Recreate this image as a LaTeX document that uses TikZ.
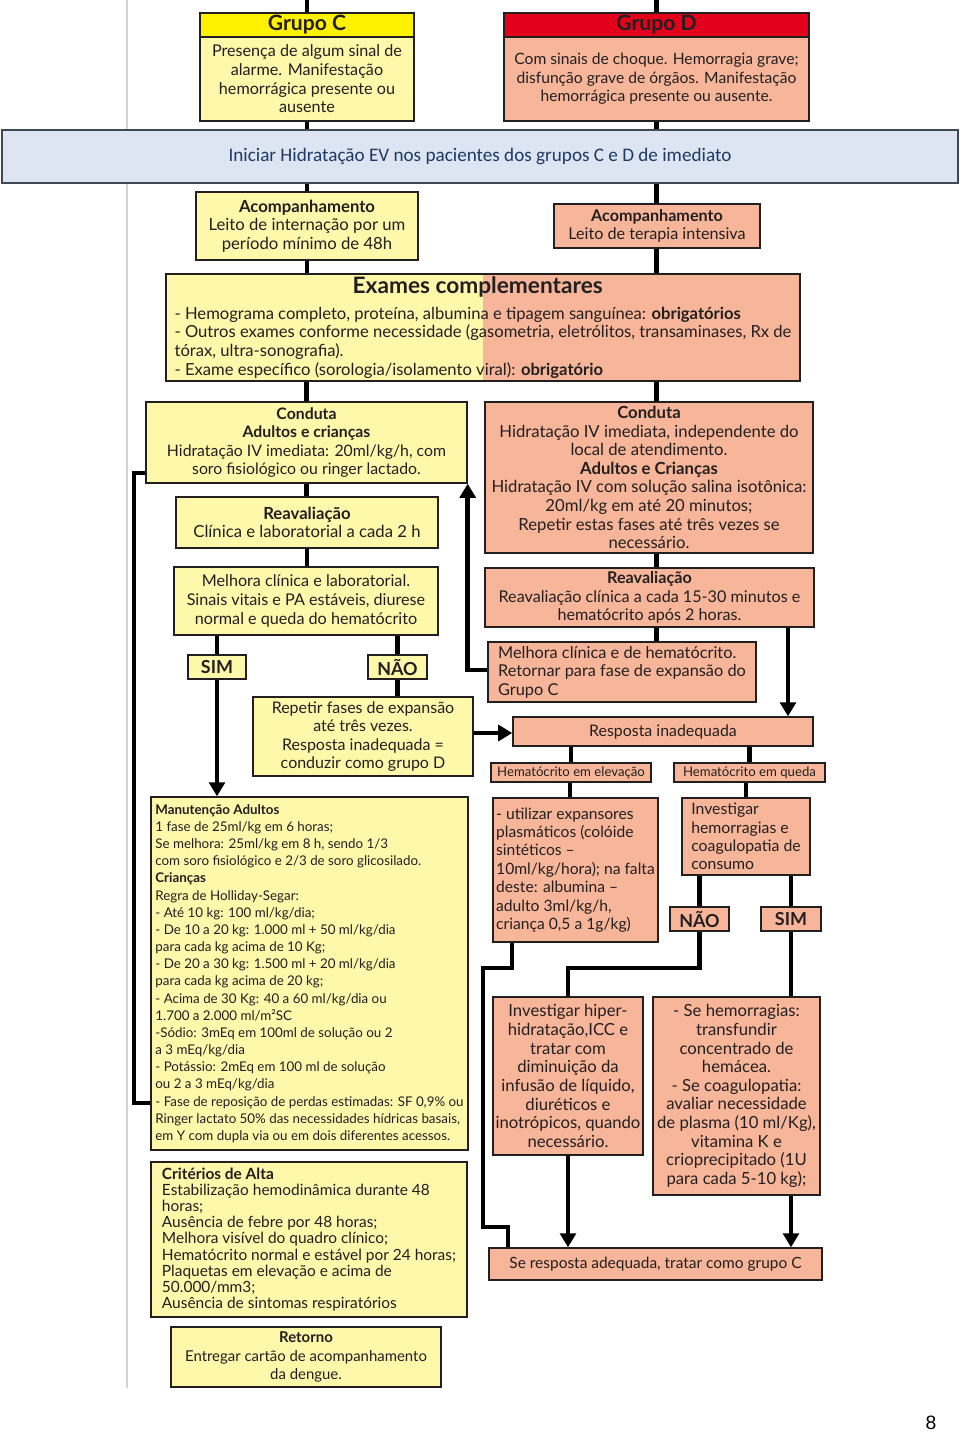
\documentclass[tikz,border=0pt]{standalone}
\usepackage{fontspec}
\setmainfont{Lato}
\newfontfamily\calib{Carlito}
\newfontfamily\arialf{Liberation Sans}
\usetikzlibrary{arrows.meta}
\definecolor{cyel}{HTML}{FDF8AA}
\definecolor{chy}{HTML}{FFF200}
\definecolor{cred}{HTML}{E3001B}
\definecolor{csal}{HTML}{F7B699}
\definecolor{cban}{HTML}{DCE5F1}
\definecolor{cbanb}{HTML}{3F4853}
\definecolor{cnavy}{HTML}{1F3864}
\definecolor{ctxt}{HTML}{231F20}
\newcommand\fA{\fontsize{9.2}{10.6}\selectfont}
\newcommand\fR{\fontsize{8.5}{10.6}\selectfont}
\newcommand\fE{\fontsize{9.45}{10.6}\selectfont}
\newcommand\fL{\fontsize{9.5}{10.6}\selectfont}
\newcommand\fU{\fontsize{8.9}{10.45}\selectfont}
\newcommand\fH{\fontsize{12}{13}\selectfont\bfseries}
\newcommand\fT{\fontsize{12.9}{14}\selectfont\bfseries}
\newcommand\fM{\fontsize{7.6}{9.77}\selectfont}
\newcommand\fC{\fontsize{8.8}{9.2}\selectfont}
\newcommand\fS{\fontsize{7.5}{8.5}\selectfont}
\newcommand\fY{\fontsize{10.2}{11}\selectfont\bfseries}
\tikzset{
  B/.style n args={4}{at={({(#1+#3)/2},{(#2+#4)/2})},
    minimum width={(#3-#1)*0.02cm}, minimum height={(#4-#2)*0.02cm}},
  box/.style={draw=ctxt, line width=0.8pt, inner sep=0pt, align=center, text=ctxt, font=\fA},
  yb/.style={box, fill=cyel},
  sb/.style={box, fill=csal},
  conn/.style={line width=2.7pt, draw=black, line join=miter},
  arr/.style={conn, -{Triangle[width=9pt,length=8pt]}},
}
\begin{document}
\begin{tikzpicture}[x=0.02cm,y=-0.02cm]
\useasboundingbox (0,0) rectangle (960,1434);
\fill[white] (0,0) rectangle (960,1434);
\draw[gray!35, line width=0.6pt] (127,0) -- (127,1388);

% top
\node[box, fill=chy, font=\fH, B={200}{13}{414}{37}] (gch) {Grupo C};
\node[yb, B={200}{37}{414}{121}] (gc) {Presença de algum sinal de\\alarme. Manifestação\\hemorrágica presente ou\\ausente};
\node[box, fill=cred, font=\fH, B={504}{13}{809}{37}] (gdh) {Grupo D};
\node[sb, font=\fontsize{8.9}{10.6}\selectfont, B={504}{37}{809}{121}] (gd) {Com sinais de choque. Hemorragia grave;\\disfunção grave de órgãos. Manifestação\\hemorrágica presente ou ausente.};
\coordinate (tC) at (307,0);
\coordinate (tD) at (656.5,0);

\node[draw=cbanb, line width=1pt, fill=cban, text=cnavy, font=\calib\fontsize{10.9}{13}\selectfont, B={2}{130}{958}{183}] (ban) {Iniciar Hidratação EV nos pacientes dos grupos C e D de imediato};

\node[yb, font=\fL, B={196}{192}{418}{260}] (acC) {\textbf{Acompanhamento}\\Leito de internação por um\\período mínimo de 48h};
\node[sb, B={554}{204}{760}{248}] (acD) {\textbf{Acompanhamento}\\Leito de terapia intensiva};

\fill[cyel] (166,274) rectangle (483,381);
\fill[csal] (483,274) rectangle (800,381);
\node[box, align=left, font=\fE, B={166}{274}{800}{381}] (ex) {\makebox[\linewidth][c]{\fT Exames complementares}\\[4pt]
- Hemograma completo, proteína, albumina e tipagem sanguínea: \textbf{obrigatórios}\\
- Outros exames conforme necessidade (gasometria, eletrólitos, transaminases, Rx de\\
tórax, ultra-sonografia).\\
- Exame específico (sorologia/isolamento viral): \textbf{obrigatório}};

\node[yb, font=\fontsize{9}{10.6}\selectfont, B={146}{402}{467}{483}] (cc) {\textbf{Conduta}\\\textbf{Adultos e crianças}\\Hidratação IV imediata: 20ml/kg/h, com\\soro fisiológico ou ringer lactado.};
\node[sb, font=\fL, B={485}{402}{813}{553}] (cd) {\textbf{Conduta}\\Hidratação IV imediata, independente do\\local de atendimento.\\\textbf{Adultos e Crianças}\\Hidratação IV com solução salina isotônica:\\20ml/kg em até 20 minutos;\\Repetir estas fases até três vezes se\\necessário.};

\node[yb, font=\fL, B={176}{497}{438}{548}] (rc) {\textbf{Reavaliação}\\Clínica e laboratorial a cada 2 h};
\node[yb, B={174}{567}{438}{635}] (mc) {Melhora clínica e laboratorial.\\Sinais vitais e PA estáveis, diurese\\normal e queda do hematócrito};
\node[sb, B={485}{568}{814}{627}] (rd) {\textbf{Reavaliação}\\Reavaliação clínica a cada 15-30 minutos e\\hematócrito após 2 horas.};
\node[sb, align=left, font=\fontsize{9.3}{10.6}\selectfont, B={488}{642}{756}{702}] (md) {Melhora clínica e de hematócrito.\\Retornar para fase de expansão do\\Grupo C};

\node[yb, font=\fY, B={188}{655}{246}{679}] (sim) {SIM};
\node[yb, font=\fY, B={368}{655}{427}{679}] (nao) {NÃO};
\node[yb, font=\fontsize{9.1}{10.6}\selectfont, B={253}{697}{473}{776}] (rep) {Repetir fases de expansão\\até três vezes.\\Resposta inadequada =\\conduzir como grupo D};
\node[sb, font=\fontsize{9.05}{10.6}\selectfont, B={513}{717}{813}{746}] (resp) {Resposta inadequada};
\node[sb, font=\fS, B={491}{763}{651}{782}] (hemE) {Hematócrito em elevação};
\node[sb, font=\fS, B={674}{763}{825}{782}] (hemQ) {Hematócrito em queda};

\node[yb, align=left, font=\fM, B={151}{797}{468}{1150}] (man) {\textbf{Manutenção Adultos}\\1 fase de 25ml/kg em 6 horas;\\Se melhora: 25ml/kg em 8 h, sendo 1/3\\com soro fisiológico e 2/3 de soro glicosilado.\\\textbf{Crianças}\\Regra de Holliday-Segar:\\- Até 10 kg: 100 ml/kg/dia;\\- De 10 a 20 kg: 1.000 ml + 50 ml/kg/dia\\para cada kg acima de 10 Kg;\\- De 20 a 30 kg: 1.500 ml + 20 ml/kg/dia\\para cada kg acima de 20 kg;\\- Acima de 30 Kg: 40 a 60 ml/kg/dia ou\\1.700 a 2.000 ml/m²SC\\-Sódio: 3mEq em 100ml de solução ou 2\\a 3 mEq/kg/dia\\- Potássio: 2mEq em 100 ml de solução\\ou 2 a 3 mEq/kg/dia\\- Fase de reposição de perdas estimadas: SF 0,9\% ou\\Ringer lactato 50\% das necessidades hídricas basais,\\em Y com dupla via ou em dois diferentes acessos.};

\node[sb, align=left, font=\fU, B={493}{798}{658}{942}] (ut) {- utilizar expansores\\plasmáticos (colóide\\sintéticos –\\10ml/kg/hora); na falta\\deste: albumina –\\adulto 3ml/kg/h,\\criança 0,5 a 1g/kg)};
\node[sb, align=left, font=\fontsize{9}{10.5}\selectfont, B={682}{798}{810}{875}] (inv) {Investigar\\hemorragias e\\coagulopatia de\\consumo};
\node[sb, font=\fY, B={670}{907}{729}{931}] (nao2) {NÃO};
\node[sb, font=\fY, B={761}{907}{821}{931}] (sim2) {SIM};
\node[sb, font=\fL, B={493}{997}{643}{1155}] (hip) {Investigar hiper-\\hidratação,ICC e\\tratar com\\diminuição da\\infusão de líquido,\\diuréticos e\\inotrópicos, quando\\necessário.};
\node[sb, font=\fL, B={653}{997}{820}{1195}] (hem) {- Se hemorragias:\\transfundir\\concentrado de\\hemácea.\\- Se coagulopatia:\\avaliar necessidade\\de plasma (10 ml/Kg),\\vitamina K e\\crioprecipitado (1U\\para cada 5-10 kg);};
\node[sb, font=\fontsize{8.8}{10.6}\selectfont, B={489}{1248}{822}{1280}] (sr) {Se resposta adequada, tratar como grupo C};

\node[yb, align=left, font=\fC, B={151}{1162}{467}{1317}] (crit) {\textbf{Critérios de Alta}\\Estabilização hemodinâmica durante 48\\horas;\\Ausência de febre por 48 horas;\\Melhora visível do quadro clínico;\\Hematócrito normal e estável por 24 horas;\\Plaquetas em elevação e acima de\\50.000/mm3;\\Ausência de sintomas respiratórios};
\node[yb, font=\fR, B={171}{1327}{441}{1387}] (ret) {\textbf{Retorno}\\Entregar cartão de acompanhamento\\da dengue.};

\node[font=\arialf\fontsize{11}{13}\selectfont] (pg) at (931,1423) {8};

% connectors
\draw[conn] (tC) -- (gch.north);
\draw[conn] (tD) -- (gdh.north);
\draw[conn] (gc.south) -- (gc.south |- ban.north);
\draw[conn] (gd.south) -- (gd.south |- ban.north);
\draw[conn] (acC.north |- ban.south) -- (acC.north);
\draw[conn] (tD |- ban.south) -- (tD |- acD.north);
\draw[conn] (acC.south) -- (acC.south |- ex.north);
\draw[conn] (tD |- acD.south) -- (tD |- ex.north);
\draw[conn] (cc.north |- ex.south) -- (cc.north);
\draw[conn] (tD |- ex.south) -- (tD |- cd.north);
\draw[conn] (cc.south) -- (cc.south |- rc.north);
\draw[conn] (rc.south) -- (rc.south |- mc.north);
\draw[conn] (sim.north |- mc.south) -- (sim.north);
\draw[conn] (nao.north |- mc.south) -- (nao.north);
\draw[arr] (sim.south) -- (sim.south |- man.north);
\draw[conn] (nao.south) -- (nao.south |- rep.north);
\draw[arr] (rep.east |- 0,733) -- (resp.west |- 0,733);
\coordinate (lpb) at (134,1103);
\coordinate (lpt) at (134,473);
\draw[conn] (man.west |- lpb) -- (lpb) -- (lpt) -- (cc.west |- lpt);
\coordinate (mdY) at (0,670);
\draw[arr] (md.west |- mdY) -- (cc.south east |- mdY) -- (cc.south east);
\draw[conn] (tD |- cd.south) -- (tD |- rd.north);
\draw[conn] (tD |- rd.south) -- (tD |- md.north);
\coordinate (xr) at (788,0);
\draw[arr] (xr |- rd.south) -- (xr |- resp.north);
\draw[conn] (hemE.north |- resp.south) -- (hemE.north);
\draw[conn] (hemQ.north |- resp.south) -- (hemQ.north);
\coordinate (xe) at (570,0);
\draw[conn] (xe |- hemE.south) -- (xe |- ut.north);
\draw[conn] (inv.north |- hemQ.south) -- (inv.north);
\draw[conn] (nao2.north |- inv.south) -- (nao2.north);
\draw[conn] (sim2.north |- inv.south) -- (sim2.north);
\coordinate (yk) at (0,968);
\draw[conn] (nao2.south) -- (nao2.south |- yk) -- (hip.north |- yk) -- (hip.north);
\draw[conn] (sim2.south) -- (sim2.south |- hem.north);
\coordinate (k1) at (512,968);
\coordinate (k2) at (483,1227);
\coordinate (k3) at (508,1227);
\draw[conn] (k1 |- ut.south) -- (k1) -- (k1 -| k2) -- (k2) -- (k3) -- (k3 |- sr.north);
\draw[arr] (hip.south) -- (hip.south |- sr.north);
\draw[arr] (sim2.south |- hem.south) -- (sim2.south |- sr.north);
\end{tikzpicture}
\end{document}
